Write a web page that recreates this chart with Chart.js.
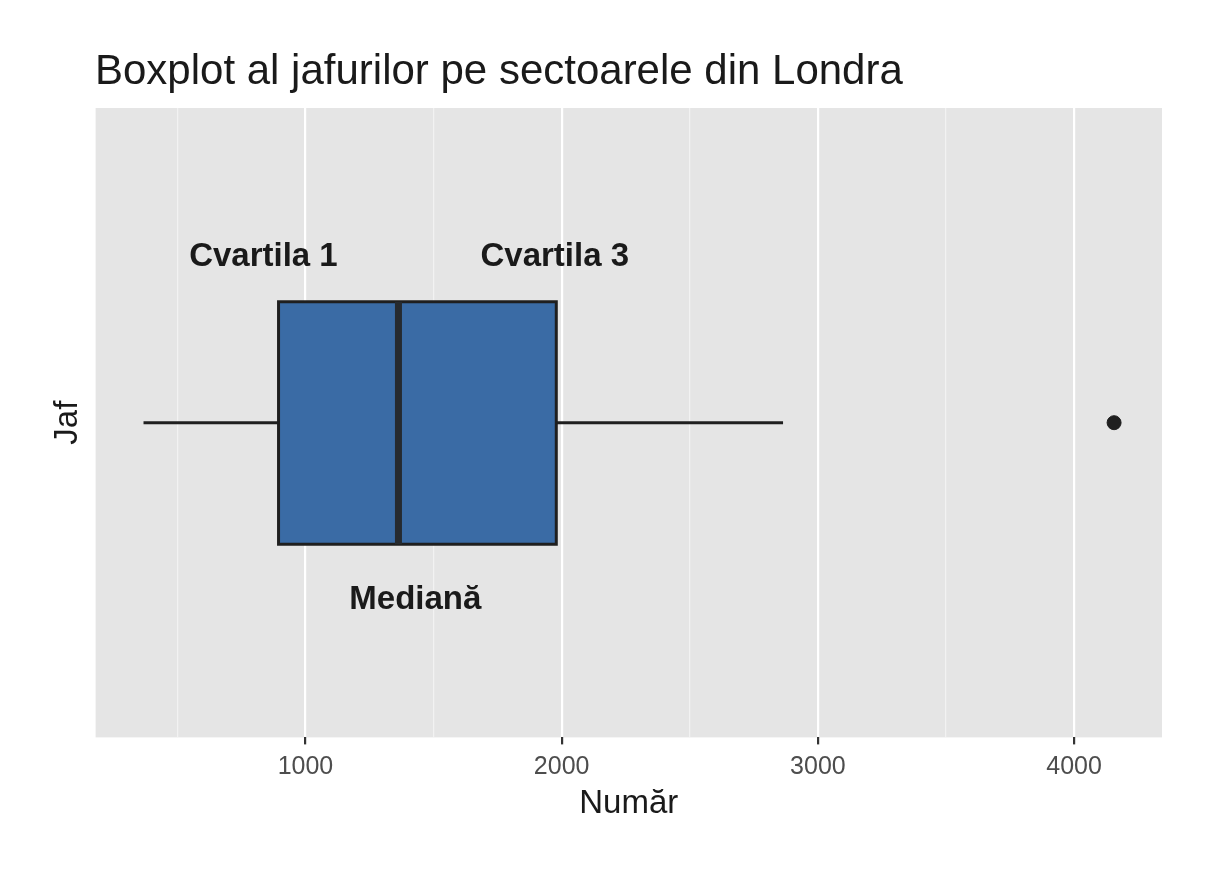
<!DOCTYPE html>
<html>
<head>
<meta charset="utf-8">
<script src="https://cdn.jsdelivr.net/npm/chart.js@4.4.1/dist/chart.umd.min.js"></script>
<style>
  html, body { margin: 0; padding: 0; background: #fff; }
  #wrap { width: 1216px; height: 873px; }
</style>
</head>
<body>
<div id="wrap"><canvas id="boxChart"></canvas></div>
<script>
// Box statistics (Număr)
const whiskerLow = 368;
const quartile1 = 895;
const median = 1363;
const quartile3 = 1979;
const whiskerHigh = 2864;
const outliers = [4156];
const xTicks = [1000, 2000, 3000, 4000];

// Vertical extent of the box (y is 0..1, box centered on 0.5)
const boxLow = 0.307;
const boxHigh = 0.692;
const mid = 0.5;

const labels = [
    { text: 'Cvartila 1', x: 836, y: 0.763 },
    { text: 'Cvartila 3', x: 1973, y: 0.763 },
    { text: 'Mediană', x: 1429, y: 0.219 }
];

const font = "'Liberation Sans', Arial, sans-serif";

// Grey panel + title + annotations
const panelPlugin = {
    id: 'panel',
    beforeDraw(chart) {
        const { ctx, chartArea: a } = chart;
        ctx.save();
        ctx.fillStyle = '#e5e5e5';
        ctx.fillRect(a.left, a.top, a.right - a.left, a.bottom - a.top);
        ctx.fillStyle = '#1a1a1a';
        ctx.font = '42px ' + font;
        ctx.textBaseline = 'alphabetic';
        ctx.fillText('Boxplot al jafurilor pe sectoarele din Londra', 95, 84);
        ctx.restore();
    },
    afterDatasetsDraw(chart) {
        const { ctx, scales } = chart;
        ctx.save();
        ctx.fillStyle = '#1a1a1a';
        ctx.font = 'bold 33px ' + font;
        ctx.textAlign = 'center';
        ctx.textBaseline = 'middle';
        labels.forEach(l => {
            ctx.fillText(l.text, scales.x.getPixelForValue(l.x), scales.y.getPixelForValue(l.y));
        });
        ctx.restore();
    }
};

const ctx = document.getElementById('boxChart').getContext('2d');
new Chart(ctx, {
    type: 'scatter',
    data: {
        datasets: [
            {
                // box (path goes one extra side so every corner is joined)
                data: [
                    { x: quartile1, y: boxLow }, { x: quartile3, y: boxLow },
                    { x: quartile3, y: boxHigh }, { x: quartile1, y: boxHigh },
                    { x: quartile1, y: boxLow }, { x: quartile3, y: boxLow }
                ],
                order: 10,
                showLine: true,
                fill: 'shape',
                backgroundColor: '#3a6ba5',
                borderColor: '#1f1f1f',
                borderWidth: 3,
                borderJoinStyle: 'miter',
                pointRadius: 0
            },
            {
                // median
                data: [{ x: median, y: boxLow }, { x: median, y: boxHigh }],
                order: 1,
                showLine: true,
                borderColor: '#262a2f',
                borderWidth: 7,
                pointRadius: 0
            },
            {
                data: [{ x: whiskerLow, y: mid }, { x: quartile1, y: mid }],
                order: 1,
                showLine: true, borderColor: '#1f1f1f', borderWidth: 3, pointRadius: 0
            },
            {
                data: [{ x: quartile3, y: mid }, { x: whiskerHigh, y: mid }],
                order: 1,
                showLine: true, borderColor: '#1f1f1f', borderWidth: 3, pointRadius: 0
            },
            {
                data: outliers.map(v => ({ x: v, y: mid })),
                order: 0,
                pointRadius: 7,
                backgroundColor: '#1f1f1f',
                borderColor: '#1f1f1f'
            }
        ]
    },
    options: {
        responsive: true,
        maintainAspectRatio: false,
        animation: false,
        layout: { padding: { top: 108, right: 54, left: 48, bottom: 49 } },
        plugins: {
            legend: { display: false },
            tooltip: { enabled: false }
        },
        scales: {
            x: {
                min: 181,
                max: 4343,
                afterBuildTicks(axis) {
                    const t = [];
                    for (let v = 500; v <= 4000; v += 500) t.push({ value: v });
                    axis.ticks = t;
                },
                border: { display: false },
                grid: {
                    color: c => (c.tick && c.tick.value % 1000 === 0) ? '#ffffff' : '#f2f2f2',
                    lineWidth: c => (c.tick && c.tick.value % 1000 === 0) ? 2.2 : 1.2,
                    tickColor: c => (c.tick && c.tick.value % 1000 === 0) ? '#333333' : 'rgba(0,0,0,0)',
                    tickLength: 7
                },
                ticks: {
                    color: '#4d4d4d',
                    font: { size: 25, family: font },
                    padding: 8,
                    callback: v => xTicks.includes(v) ? String(v) : ''
                },
                title: {
                    display: true,
                    text: 'Număr',
                    color: '#1a1a1a',
                    font: { size: 33, family: font },
                    padding: { top: -6, bottom: 0 }
                }
            },
            y: {
                min: 0,
                max: 1,
                border: { display: false },
                grid: { display: false },
                ticks: { display: false },
                title: {
                    display: true,
                    text: 'Jaf',
                    color: '#1a1a1a',
                    font: { size: 33, family: font },
                    padding: { top: 0, bottom: 0 }
                }
            }
        }
    },
    plugins: [panelPlugin]
});
</script>
</body>
</html>
